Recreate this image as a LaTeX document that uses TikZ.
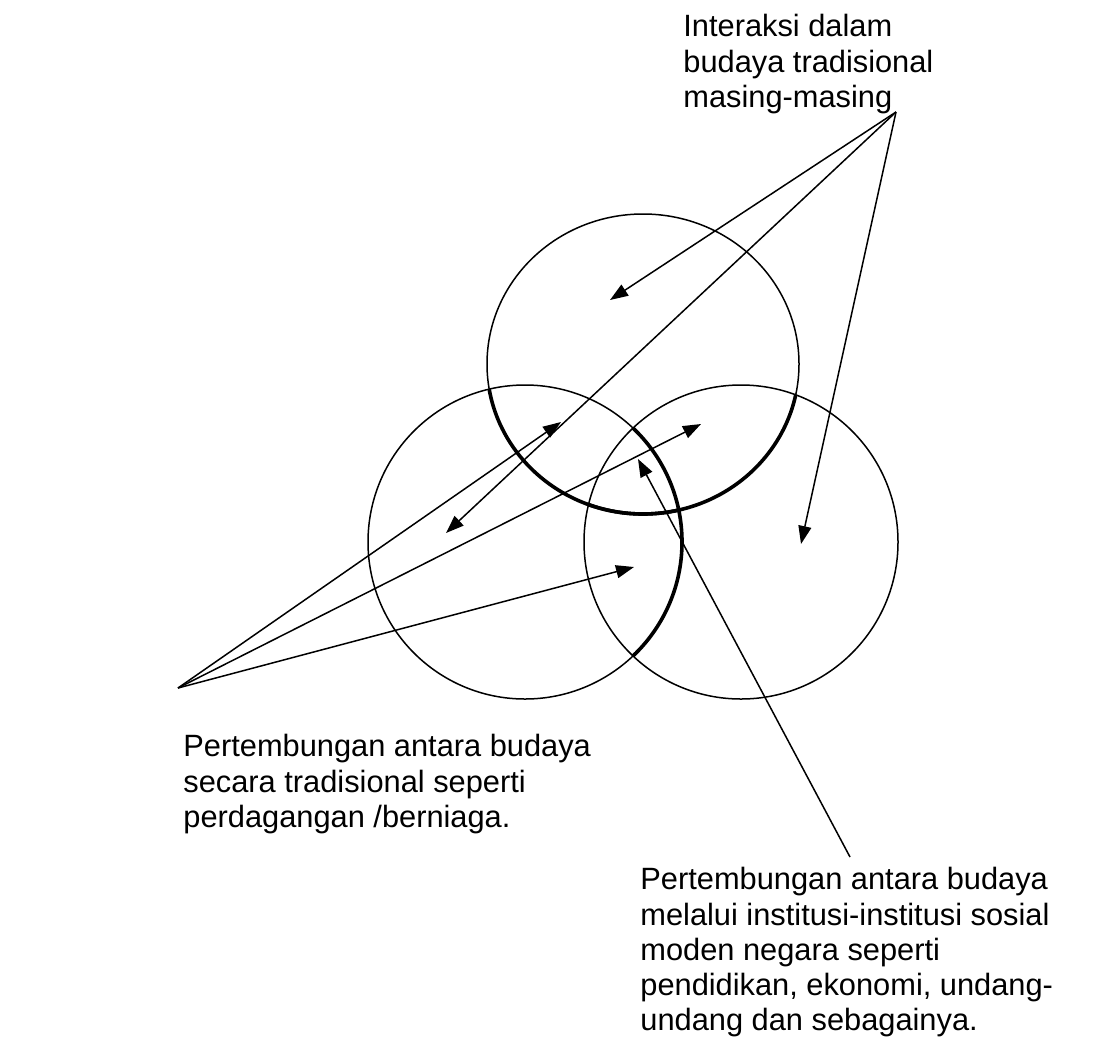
\documentclass[tikz,border=0pt]{standalone}
\usepackage{fontspec}
\setmainfont{Liberation Sans}
\usetikzlibrary{arrows.meta}
\begin{document}
\begin{tikzpicture}[x=0.5pt,y=-0.5pt,
  circ/.style={line width=0.75pt},
  boldarc/.style={line width=1.8pt},
  pointer/.style={line width=0.75pt,-{Triangle[length=9pt,width=6.5pt]}},
  lbl/.style={anchor=north west,inner sep=0pt,align=left,font=\fontsize{15.4pt}{17.65pt}\selectfont}]
\useasboundingbox (0,0) rectangle (1117,1060);
% circles
\draw[circ] (643,364) ellipse [x radius=156, y radius=150];
\draw[circ] (525,542) circle [radius=157];
\draw[circ] (741,542) circle [radius=157];
% thick arcs
\begin{scope}
  \clip (525,542) circle [radius=157];
  \draw[boldarc] (643,364) ellipse [x radius=156, y radius=150];
\end{scope}
\begin{scope}
  \clip (741,542) circle [radius=157];
  \draw[boldarc] (643,364) ellipse [x radius=156, y radius=150];
  \draw[boldarc] (525,542) circle [radius=157];
\end{scope}
% labels
\node[lbl] (top) at (683,14) {Interaksi dalam\\budaya tradisional\\masing-masing};
\node[lbl] (left) at (183,734) {Pertembungan antara budaya\\secara tradisional seperti\\perdagangan /berniaga.};
\node[lbl] (bottom) at (640,867) {Pertembungan antara budaya\\melalui institusi-institusi sosial\\moden negara seperti\\pendidikan, ekonomi, undang-\\undang dan sebagainya.};
% connector points
\coordinate (T) at (896,112);
\coordinate (L) at (178,688);
\coordinate (B) at (850,857);
\coordinate (tTop) at (610,300);
\coordinate (tLeft) at (446,533);
\coordinate (tRight) at (801,544);
\coordinate (aLT) at (561,422);
\coordinate (aTR) at (701,424);
\coordinate (aLR) at (634,567);
\coordinate (aC) at (638,459);
% connectors
\draw[pointer] (T) -- (tTop);
\draw[pointer] (T) -- (tLeft);
\draw[pointer] (T) -- (tRight);
\draw[pointer] (L) -- (aLT);
\draw[pointer] (L) -- (aTR);
\draw[pointer] (L) -- (aLR);
\draw[pointer] (B) -- (aC);
\end{tikzpicture}
\end{document}
